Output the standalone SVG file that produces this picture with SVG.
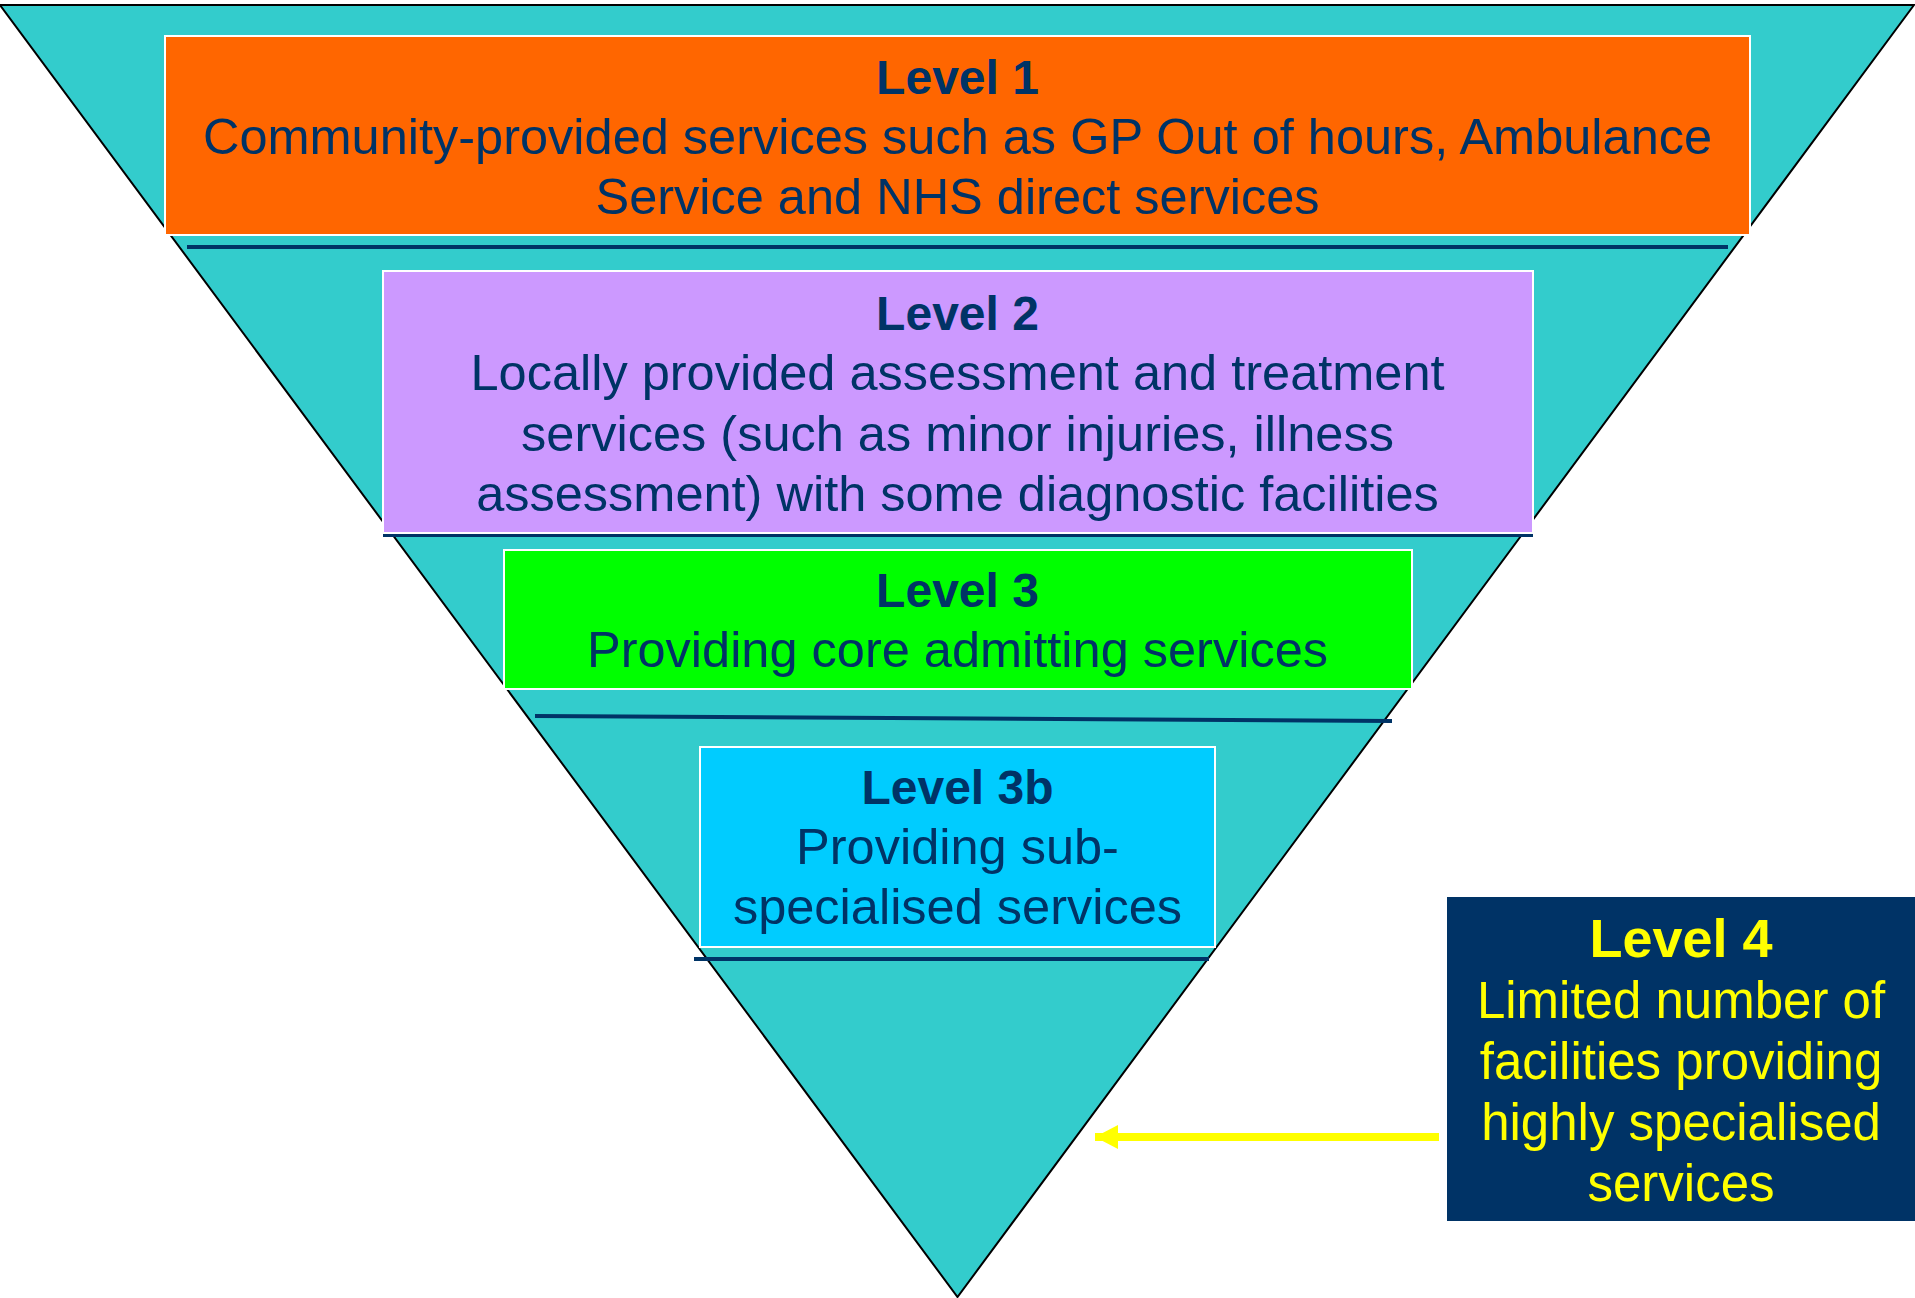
<svg xmlns="http://www.w3.org/2000/svg" width="1915" height="1298" viewBox="0 0 1915 1298">
<style>
.box{stroke:#FFFFFF;stroke-width:2}
.sep{stroke:#003366;stroke-width:4;fill:none}
text{font-family:"Liberation Sans",Arial,sans-serif;font-size:50.5px;text-anchor:middle}
.dk{fill:#003366}
.yl{fill:#FFFF00;font-size:51px}
.b{font-weight:bold;font-size:48px}
.yl.b{font-size:54px}
</style>
<defs>
<marker id="ah" markerUnits="userSpaceOnUse" markerWidth="24" markerHeight="24" refX="23" refY="12" orient="auto">
<path d="M0,0 L23,12 L0,24 Z" fill="#FFFF00"/>
</marker>
</defs>
<rect width="1915" height="1298" fill="#FFFFFF"/>
<g id="funnel">
<polygon points="0,5 1914,5 957.5,1297" fill="#33CCCC" stroke="#000000" stroke-width="2"/>
</g>
<g id="separators">
<line class="sep" x1="187" y1="247" x2="1728" y2="247"/>
<line class="sep" x1="383" y1="535" x2="1533" y2="535"/>
<line class="sep" x1="535" y1="716" x2="1392" y2="721"/>
<line class="sep" x1="694" y1="959" x2="1209" y2="959"/>
</g>
<g id="level1">
<rect class="box" x="165" y="36" width="1585" height="199" fill="#FF6600"/>
<text class="dk b" x="957.5" y="94">Level 1</text>
<text class="dk" x="957.5" y="154">Community-provided services such as GP Out of hours, Ambulance</text>
<text class="dk" x="957.5" y="214">Service and NHS direct services</text>
</g>
<g id="level2">
<rect class="box" x="383" y="271" width="1150" height="262" fill="#CC99FF"/>
<text class="dk b" x="957.5" y="329.5">Level 2</text>
<text class="dk" x="957.5" y="390">Locally provided assessment and treatment</text>
<text class="dk" x="957.5" y="450.5">services (such as minor injuries, illness</text>
<text class="dk" x="957.5" y="511">assessment) with some diagnostic facilities</text>
</g>
<g id="level3">
<rect class="box" x="504" y="550" width="908" height="139" fill="#00FF00"/>
<text class="dk b" x="957.5" y="607">Level 3</text>
<text class="dk" x="957.5" y="667">Providing core admitting services</text>
</g>
<g id="level3b">
<rect class="box" x="700" y="747" width="515" height="200" fill="#00CCFF"/>
<text class="dk b" x="957.5" y="804">Level 3b</text>
<text class="dk" x="957.5" y="864">Providing sub-</text>
<text class="dk" x="957.5" y="924">specialised services</text>
</g>
<g id="level4">
<rect x="1447" y="897" width="468" height="324" fill="#003366"/>
<text class="yl b" x="1681" y="957">Level 4</text>
<text class="yl" x="1681" y="1018">Limited number of</text>
<text class="yl" x="1681" y="1079">facilities providing</text>
<text class="yl" x="1681" y="1140">highly specialised</text>
<text class="yl" x="1681" y="1201">services</text>
</g>
<g id="connectors">
<line x1="1439" y1="1137" x2="1095" y2="1137" stroke="#FFFF00" stroke-width="8" marker-end="url(#ah)"/>
</g>
</svg>
